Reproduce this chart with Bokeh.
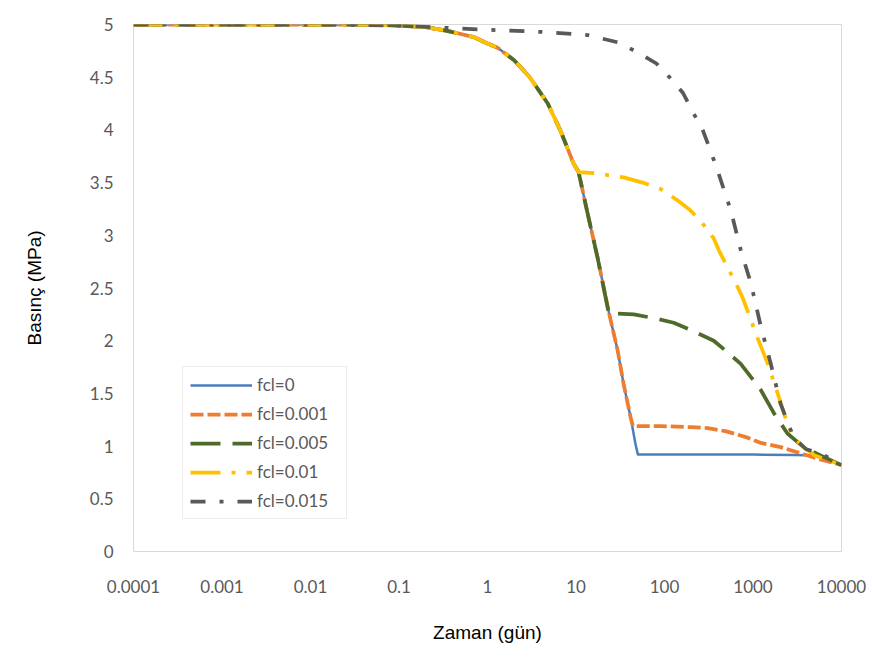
from bokeh.plotting import figure
from bokeh.models import Legend, LegendItem, FixedTicker
from bokeh.embed import file_html
from bokeh.resources import INLINE

# ---- data ----
t_fcl0 = [0.0001, 0.001, 0.01, 0.05, 0.1, 0.2, 0.35, 0.5, 0.7, 1, 1.3, 2, 3, 4.8, 6.7, 9.4, 10.7,
          13.5, 17.5, 23.5, 29.5, 34.5, 41.5, 47, 50, 100, 1000, 3000, 5000, 6000, 10000]
p_fcl0 = [5, 5, 5, 5, 4.99, 4.975, 4.94, 4.91, 4.88, 4.82, 4.78, 4.66, 4.50, 4.25, 3.99, 3.68, 3.60,
          3.21, 2.79, 2.27, 1.91, 1.59, 1.27, 1.02, 0.92, 0.92, 0.92, 0.915, 0.91, 0.9, 0.82]

t_fcl0001 = [0.0001, 0.001, 0.01, 0.05, 0.1, 0.2, 0.35, 0.5, 0.7, 1, 1.3, 2, 3, 4.8, 6.7, 9.4, 10.7,
             13.5, 17.5, 23.5, 29.5, 34.5, 41.5, 44, 60, 91, 200, 309, 500, 870, 1230, 2050, 3500, 5400, 10000]
p_fcl0001 = [5, 5, 5, 5, 4.99, 4.975, 4.94, 4.91, 4.88, 4.82, 4.78, 4.66, 4.50, 4.25, 3.99, 3.68, 3.60,
             3.21, 2.79, 2.27, 1.91, 1.59, 1.27, 1.19, 1.19, 1.19, 1.18, 1.17, 1.14, 1.08, 1.03, 0.99, 0.93, 0.88, 0.82]

t_fcl0005 = [0.0001, 0.001, 0.01, 0.05, 0.1, 0.2, 0.35, 0.5, 0.7, 1, 1.3, 2, 3, 4.8, 6.7, 9.4, 10.7,
             13.5, 17.5, 23.5, 45, 80, 127, 200, 360, 500, 727, 1000, 1230, 1730, 2450, 3730, 5870, 10000]
p_fcl0005 = [5, 5, 5, 5, 4.99, 4.975, 4.94, 4.91, 4.88, 4.82, 4.78, 4.66, 4.50, 4.25, 3.99, 3.68, 3.60,
             3.21, 2.79, 2.26, 2.25, 2.21, 2.17, 2.10, 2.0, 1.90, 1.78, 1.63, 1.53, 1.31, 1.12, 0.99, 0.91, 0.82]

t_fcl001 = [0.0001, 0.001, 0.01, 0.05, 0.1, 0.2, 0.35, 0.5, 0.7, 1, 1.3, 2, 3, 4.8, 6.7, 9.4, 10.7,
            15.8, 34.5, 56.5, 90, 141, 188, 255, 360, 410, 520, 670, 770, 1120, 1470, 1900, 2450, 2880, 3730, 5000, 10000]
p_fcl001 = [5, 5, 5, 5, 4.99, 4.975, 4.94, 4.91, 4.88, 4.82, 4.78, 4.66, 4.50, 4.25, 3.99, 3.68, 3.60,
            3.59, 3.55, 3.50, 3.44, 3.33, 3.25, 3.14, 2.97, 2.86, 2.69, 2.51, 2.40, 2.03, 1.78, 1.50, 1.21, 1.08, 0.99, 0.91, 0.82]

t_fcl0015 = [0.0001, 0.001, 0.01, 0.1, 0.3, 1, 4, 13.5, 30, 51, 81, 117, 162, 209, 270, 332, 400, 470,
             560, 727, 950, 1230, 1590, 2050, 2880, 4000, 5870, 10000]
p_fcl0015 = [5, 5, 5, 4.99, 4.97, 4.95, 4.93, 4.90, 4.83, 4.73, 4.63, 4.49, 4.35, 4.17, 4.0, 3.80, 3.61, 3.43,
             3.24, 2.86, 2.54, 2.13, 1.78, 1.40, 1.08, 0.97, 0.93, 0.82]

series_names = ["fcl=0", "fcl=0.001", "fcl=0.005", "fcl=0.01", "fcl=0.015"]

x_ticks = [0.0001, 0.001, 0.01, 0.1, 1.0, 10.0, 100.0, 1000.0, 10000.0]
x_tick_labels = ["0.0001", "0.001", "0.01", "0.1", "1", "10", "100", "1000", "10000"]
y_ticks = [0.0, 0.5, 1.0, 1.5, 2.0, 2.5, 3.0, 3.5, 4.0, 4.5, 5.0]
y_tick_labels = ["0", "0.5", "1", "1.5", "2", "2.5", "3", "3.5", "4", "4.5", "5"]

x_title = "Zaman (gün)"
y_title = "Basınç (MPa)"

# ---- figure ----
p = figure(width=883, height=657, x_axis_type="log", x_range=(1e-4, 1e4), y_range=(0, 5),
           output_backend="svg", toolbar_location=None,
           min_border_left=133, min_border_right=42, min_border_top=24, min_border_bottom=106)
p.background_fill_color = "white"
p.border_fill_color = "white"
p.outline_line_color = "#d9d9d9"
p.outline_line_width = 1
p.xgrid.visible = False
p.ygrid.visible = False

tick_font = "Lato"
for ax in (p.xaxis[0], p.yaxis[0]):
    ax.axis_line_color = None
    ax.major_tick_line_color = None
    ax.minor_tick_line_color = None
    ax.major_tick_out = 0
    ax.major_tick_in = 0
    ax.major_label_text_font = tick_font
    ax.major_label_text_font_size = "17px"
    ax.major_label_text_color = "#595959"
    ax.axis_label_text_font = "Liberation Sans"
    ax.axis_label_text_font_size = "19px"
    ax.axis_label_text_font_style = "normal"
    ax.axis_label_text_color = "#000000"

p.xaxis[0].ticker = FixedTicker(ticks=x_ticks)
p.xaxis[0].major_label_overrides = dict(zip(x_ticks, x_tick_labels))
p.xaxis[0].major_label_standoff = 28
p.xaxis[0].axis_label = x_title
p.xaxis[0].axis_label_standoff = 26

p.yaxis[0].ticker = FixedTicker(ticks=y_ticks)
p.yaxis[0].major_label_overrides = dict(zip(y_ticks, y_tick_labels))
p.yaxis[0].major_label_standoff = 20
p.yaxis[0].axis_label = y_title
p.yaxis[0].axis_label_standoff = 42

styles = [
    ("#4a7ebf", 2.5, "solid"),
    ("#ED7D31", 3.75, "13 4"),
    ("#4e6b2a", 3.75, "30 12"),
    ("#FFC000", 3.75, "30 11 4 11"),
    ("#595959", 3.75, "15 14 4 14"),
]
data = [(t_fcl0, p_fcl0), (t_fcl0001, p_fcl0001), (t_fcl0005, p_fcl0005),
        (t_fcl001, p_fcl001), (t_fcl0015, p_fcl0015)]

items = []
for (tx, py), (col, w, dash), name in zip(data, styles, series_names):
    r = p.line(tx, py, line_color=col, line_width=w, line_dash=dash, line_join="round")
    items.append(LegendItem(label=name, renderers=[r]))

legend = Legend(items=items, location=(49, 32), padding=7, spacing=8, margin=0,
                glyph_width=62, glyph_height=16, label_height=16, label_width=82,
                label_standoff=5, label_text_font=tick_font, label_text_font_size="17px",
                label_text_color="#595959", border_line_color="#d9d9d9",
                background_fill_color="white", background_fill_alpha=1)
p.add_layout(legend)

open("out.html", "w").write(file_html(p, INLINE))
